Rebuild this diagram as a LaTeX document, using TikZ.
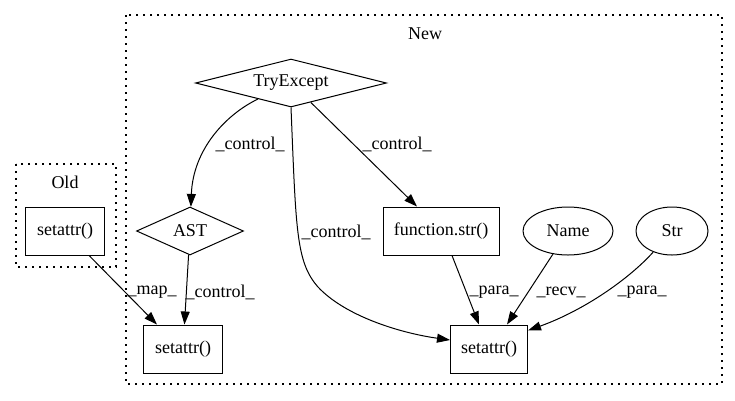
\documentclass[tikz,border=0pt]{standalone}
\usepackage{fontspec}
\setmainfont{Liberation Serif}
\usetikzlibrary{shapes.geometric,arrows.meta}

\tikzset{
  box/.style={draw, rectangle, minimum width=79pt, minimum height=48pt, inner sep=0pt},
  dia/.style={draw, diamond, aspect=4, inner sep=0pt, minimum height=48pt},
  ell/.style={draw, ellipse, minimum height=48pt, inner sep=0pt},
  flow/.style={-{Triangle[length=13pt,width=9pt]}, line width=1pt},
  lbl/.style={inner sep=0pt},
  cluster/.style={dash pattern=on 1.6pt off 5.4pt, line width=1.4pt},
}

\begin{document}
\begin{tikzpicture}[x=1pt, y=-1pt, line width=1pt,
  every node/.append style={font=\fontsize{18pt}{20pt}\selectfont}]
\useasboundingbox (0,0) rectangle (735,400);
% clusters
\draw [cluster] (126,15) rectangle (722,384);
\draw [cluster] (16,164) rectangle (116,267);
\node [lbl] (newlbl) at (425,34) {New};
\node [lbl] (oldlbl) at (65,182) {Old};
% nodes
\node [dia, minimum width=191pt] (tryexc) at (291,83) {TryExcept};
\node [dia, minimum width=107pt] (ast) at (190,231) {AST};
\node [box] (oldset) at (65,231) {setattr()};
\node [box, minimum width=116pt] (strfn) at (441,231) {function.str()};
\node [ell, minimum width=90pt] (name) at (568,231) {Name};
\node [ell, minimum width=72pt] (str) at (672,231) {Str};
\node [box] (set1) at (183,349) {setattr()};
\node [box, minimum width=77pt] (set2) at (489,349) {setattr()};
% edges
\draw [flow] (tryexc) .. controls (225,115) and (193,150) .. (ast);
\draw [flow] (tryexc) -- ([xshift=-24pt]strfn.north);
\draw [flow] (tryexc.south) .. controls (296,230) and (296,262) .. (318,287)
  .. controls (345,316) and (400,333) .. ([yshift=9pt]set2.west);
\draw [flow] (oldset) -- ([xshift=-26pt]set1.north);
\draw [flow] (ast) -- (set1);
\draw [flow] ([xshift=11pt]strfn.south) -- ([xshift=-10pt]set2.north);
\draw [flow] (name) -- ([xshift=18pt]set2.north);
\draw [flow] (str) .. controls (630,278) and (585,310) .. ([yshift=-6pt]set2.north east);
% labels
\node [lbl] (c1) at (250,144) {\_control\_};
\node [lbl] (c2) at (397,144) {\_control\_};
\node [lbl] (c3) at (336,232) {\_control\_};
\node [lbl] (map) at (152,292) {\_map\_};
\node [lbl] (c4) at (220,292) {\_control\_};
\node [lbl] (p1) at (494,292) {\_para\_};
\node [lbl] (recv) at (561,292) {\_recv\_};
\node [lbl] (p2) at (642,292) {\_para\_};
\end{tikzpicture}
\end{document}
